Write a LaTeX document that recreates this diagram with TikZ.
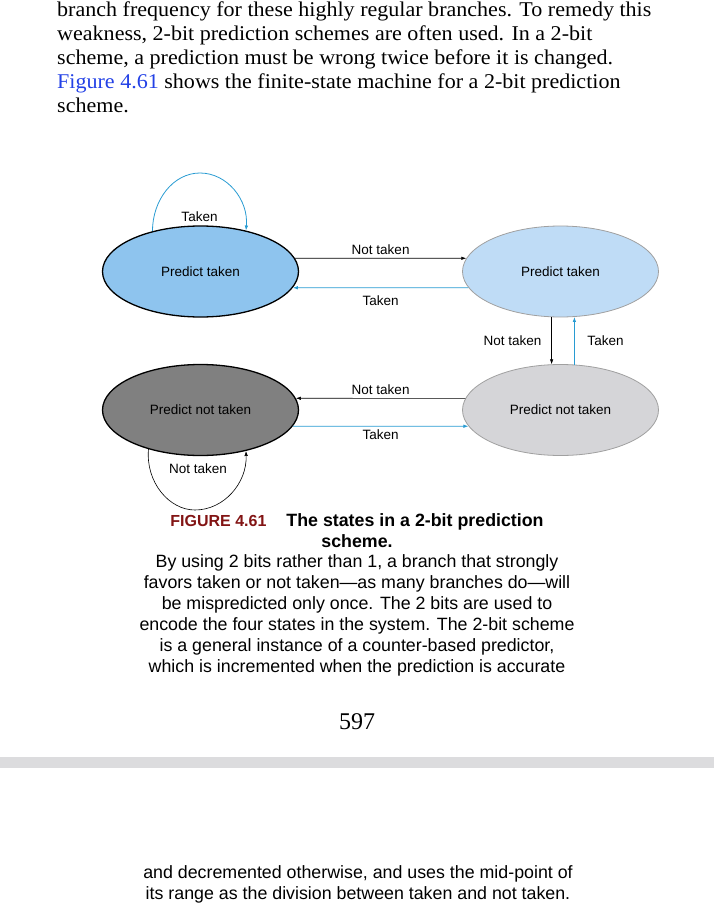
\documentclass[tikz,border=0pt]{standalone}
\usepackage{fontspec}
\setmainfont{Liberation Serif}
\newfontfamily\bodyfont[FakeStretch=1.05]{Liberation Serif}
\newfontfamily\arialfont{Liberation Sans}
\usetikzlibrary{shapes.geometric,arrows.meta}
\definecolor{stfill}{RGB}{142,196,238}
\definecolor{wtfill}{RGB}{191,220,246}
\definecolor{sntfill}{RGB}{128,128,128}
\definecolor{wntfill}{RGB}{213,213,216}
\definecolor{weakline}{RGB}{160,160,160}
\definecolor{tkblue}{RGB}{40,155,210}
\definecolor{linkblue}{RGB}{35,65,230}
\definecolor{figred}{RGB}{130,20,20}
\definecolor{bargray}{RGB}{220,220,222}
\newcommand\diagfont{\arialfont\fontsize{13.5}{16}\selectfont}
\newcommand\capfont{\arialfont\fontsize{17.8}{21}\selectfont}
\tikzset{
    state/.style={ellipse, minimum width=196pt, minimum height=91pt, inner sep=0pt, font=\diagfont},
    strong/.style={state, draw=black, line width=1.3pt},
    weak/.style={state, draw=weakline, line width=0.8pt},
    ntk/.style={draw=black, line width=0.6pt, -{Latex[length=5pt,width=3.5pt]}},
    tkn/.style={draw=tkblue, line width=0.8pt, -{Latex[length=5pt,width=3.5pt]}},
    lbl/.style={font=\diagfont, inner sep=0pt},
    toptxt/.style={anchor=base west, inner sep=0pt, font=\bodyfont\fontsize{21}{24}\selectfont},
    captxt/.style={anchor=base, inner sep=0pt, font=\capfont}
}

\begin{document}
\begin{tikzpicture}[x=1pt,y=1pt]
        \useasboundingbox (0,0) rectangle (714,-923);
        % running text above the figure
        \foreach \ln [count=\i] in {{branch frequency for these highly regular branches. To remedy this},
                {weakness, 2-bit prediction schemes are often used. In a 2-bit},
                {scheme, a prediction must be wrong twice before it is changed.},
                {\textcolor{linkblue}{Figure 4.61} shows the finite-state machine for a 2-bit prediction},
                {scheme.}}
                \node[toptxt] (top\i) at (57,{-17-23.8*(\i-1)}) {\ln};
        % the four states
        \node[strong, fill=stfill] (st) at (200.5,-271.5) {Predict taken};
        \node[weak, fill=wtfill] (wt) at (560.5,-271.5) {Predict taken};
        \node[strong, fill=sntfill] (snt) at (200.5,-410) {Predict not taken};
        \node[weak, fill=wntfill] (wnt) at (560.5,-410) {Predict not taken};
        \coordinate (sttop) at (200,-173);
        \coordinate (sntbot) at (195,-510);
        % transitions
        \draw[ntk] (st.8) -- node[lbl, above=3.7pt] (l1) {Not taken} (wt.172);
        \draw[tkn] (wt.190) -- node[lbl, below=7.5pt] (l2) {Taken} (st.-10);
        \draw[ntk] (wt.259) -- node[lbl, left=10pt] (l3) {Not taken} (wnt.101);
        \draw[tkn] (wnt.73) -- node[lbl, right=12.7pt] (l4) {Taken} (wt.287);
        \draw[ntk] (wnt.173) -- node[lbl, above=3.4pt] (l5) {Not taken} (snt.7);
        \draw[tkn] (snt.-10) -- node[lbl, below=3.4pt] (l6) {Taken} (wnt.190);
        % self loops
        \draw[tkn] (st.140) .. controls +(90:31) and +(180:27) .. (sttop)
                .. controls +(0:27) and +(85:31) .. (st.42);
        \node[lbl] (l7) at (199.5,-217) {Taken};
        \draw[ntk] (snt.217) .. controls +(-95:33) and +(180:26) .. (sntbot)
                .. controls +(0:29) and +(-88:32) .. (snt.318);
        \node[lbl] (l8) at (198,-468.5) {Not taken};
        % caption
        \node[captxt, font=\capfont\bfseries] (cap0) at (357,-526)
                {{\color{figred}\fontsize{16}{21}\selectfont FIGURE 4.61}\hspace{20pt}The states in a 2-bit prediction};
        \node[captxt, font=\capfont\bfseries] (cap00) at (357,-547) {scheme.};
        \foreach \ln [count=\i] in {{By using 2 bits rather than 1, a branch that strongly},
                {favors taken or not taken—as many branches do—will},
                {be mispredicted only once. The 2 bits are used to},
                {encode the four states in the system. The 2-bit scheme},
                {is a general instance of a counter-based predictor,},
                {which is incremented when the prediction is accurate}}
                \node[captxt] (cap\i) at (357,{-567.6-21*(\i-1)}) {\ln};
        % page number and page break
        \node[inner sep=0pt, font=\fontsize{24}{28}\selectfont] (pnum) at (357,-722) {597};
        \fill[bargray] (0,-757) rectangle (714,-768);
        \node[captxt] (next1) at (358,-878.6) {and decremented otherwise, and uses the mid-point of};
        \node[captxt] (next2) at (358,-899.6) {its range as the division between taken and not taken.};
\end{tikzpicture}
\end{document}
